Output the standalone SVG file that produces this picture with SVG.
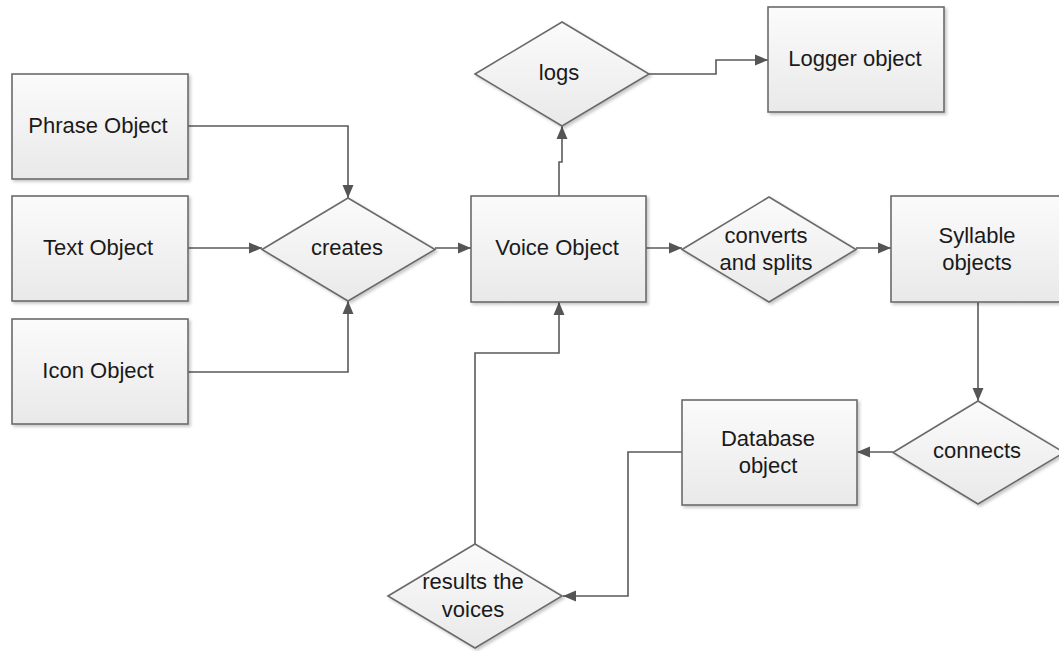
<svg xmlns="http://www.w3.org/2000/svg" width="1059" height="651" viewBox="0 0 1059 651">
  <defs>
    <linearGradient id="fillGrad" x1="0" y1="0" x2="0" y2="1">
      <stop offset="0" stop-color="#fbfbfb"/>
      <stop offset="1" stop-color="#e9e9e9"/>
    </linearGradient>
    <filter id="shadow" x="-10%" y="-10%" width="125%" height="125%">
      <feDropShadow dx="2" dy="2" stdDeviation="1.5" flood-color="#000" flood-opacity="0.22"/>
    </filter>
    <marker id="arrow" markerUnits="userSpaceOnUse" markerWidth="14" markerHeight="12" refX="13" refY="6" orient="auto">
      <path d="M0,0.5 L13,6 L0,11.5 z" fill="#555"/>
    </marker>
  </defs>
  <style>
    .shape { fill: url(#fillGrad); stroke: #6b6b6b; stroke-width: 1.6; filter: url(#shadow); }
    .label { font-family: "Liberation Sans", Arial, sans-serif; font-size: 22px; fill: #1a1a1a; text-anchor: middle; }
    .conn { fill: none; stroke: #5a5a5a; stroke-width: 1.6; marker-end: url(#arrow); }
    .conn-plain { fill: none; stroke: #5a5a5a; stroke-width: 1.6; }
  </style>
  <rect width="1059" height="651" fill="#ffffff"/>

  <!-- connectors -->
  <g id="connectors">
    <polyline class="conn" points="188,126 348,126 348,198"/>
    <polyline class="conn" points="188,248 262,248"/>
    <polyline class="conn" points="188,372 348,372 348,301"/>
    <polyline class="conn" points="435,248 471,248"/>
    <polyline class="conn" points="559,196 559,162 562,162 562,126"/>
    <polyline class="conn" points="649,74 716,74 716,60 768,60"/>
    <polyline class="conn" points="646,248 682,248"/>
    <polyline class="conn" points="856,248 891,248"/>
    <polyline class="conn" points="978,302 978,401"/>
    <polyline class="conn" points="893,452 857,452"/>
    <polyline class="conn" points="682,452 628,452 628,596 563,596"/>
    <polyline class="conn" points="475,544 475,353 559,353 559,302"/>
  </g>

  <!-- nodes -->
  <g id="phrase-object">
    <rect class="shape" x="12" y="74" width="176" height="105"/>
    <text class="label" x="98" y="133">Phrase Object</text>
  </g>
  <g id="text-object">
    <rect class="shape" x="12" y="196" width="176" height="105"/>
    <text class="label" x="98" y="255">Text Object</text>
  </g>
  <g id="icon-object">
    <rect class="shape" x="12" y="319" width="176" height="105"/>
    <text class="label" x="98" y="378">Icon Object</text>
  </g>
  <g id="creates">
    <polygon class="shape" points="262,249.5 348,198 435,249.5 348,301"/>
    <text class="label" x="347" y="255">creates</text>
  </g>
  <g id="voice-object">
    <rect class="shape" x="471" y="196" width="175" height="106"/>
    <text class="label" x="557" y="255">Voice Object</text>
  </g>
  <g id="logs">
    <polygon class="shape" points="475,74 562,22 649,74 562,126"/>
    <text class="label" x="559" y="80">logs</text>
  </g>
  <g id="logger-object">
    <rect class="shape" x="768" y="7" width="176" height="105"/>
    <text class="label" x="855" y="66">Logger object</text>
  </g>
  <g id="converts-and-splits">
    <polygon class="shape" points="682,249.5 769,197 856,249.5 769,302"/>
    <text class="label" x="766" y="243">converts</text>
    <text class="label" x="766" y="270">and splits</text>
  </g>
  <g id="syllable-objects">
    <rect class="shape" x="891" y="196" width="176" height="106"/>
    <text class="label" x="977" y="243">Syllable</text>
    <text class="label" x="977" y="270">objects</text>
  </g>
  <g id="connects">
    <polygon class="shape" points="893,452.5 978,401 1064,452.5 978,504"/>
    <text class="label" x="977" y="458">connects</text>
  </g>
  <g id="database-object">
    <rect class="shape" x="682" y="400" width="175" height="105"/>
    <text class="label" x="768" y="446">Database</text>
    <text class="label" x="768" y="473">object</text>
  </g>
  <g id="results-the-voices">
    <polygon class="shape" points="388,596 475,544 562,596 475,648"/>
    <text class="label" x="473" y="589">results the</text>
    <text class="label" x="473" y="617">voices</text>
  </g>
</svg>
